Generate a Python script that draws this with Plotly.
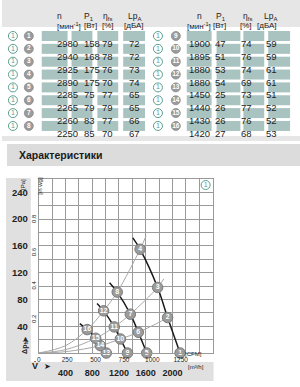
import plotly.graph_objects as go

W, H = 300, 387

# ---------------- table data ----------------
ids_left = [1, 2, 3, 4, 5, 6, 7, 8]
n_left = [2980, 2940, 2925, 2890, 2285, 2265, 2260, 2250]
p1_left = [158, 168, 175, 175, 75, 79, 83, 85]
eta_left = [79, 78, 76, 70, 77, 79, 77, 70]
lpa_left = [72, 72, 73, 74, 65, 65, 66, 67]

ids_right = [9, 10, 11, 12, 13, 14, 15, 16]
n_right = [1900, 1895, 1880, 1880, 1450, 1440, 1430, 1420]
p1_right = [47, 51, 53, 54, 25, 26, 26, 27]
eta_right = [74, 76, 74, 69, 73, 77, 76, 68]
lpa_right = [59, 59, 61, 61, 51, 52, 52, 53]

header_top = ["n", "P<sub>1</sub>", "η<sub>fs</sub>", "Lp<sub>A</sub>"]
header_unit = ["[мин<sup>-1</sup>]", "[Вт]", "[%]", "[дБА]"]

# ---------------- chart data ----------------
# operating points 1..16 : flow [m³/h], static pressure [Pa]
pt_ids = list(range(1, 17))
pt_flow = [2114, 1927, 1778, 1516, 1615, 1489, 1370, 1174,
           1327, 1221, 1129, 970, 1010, 921, 851, 724]
pt_dp = [0, 53, 98, 155, 0, 31, 58, 91,
         0, 21, 39, 63, 0, 11, 22, 35]

# fan curve start points (upper ends of the black curves)
curve_start_flow = [1407, 1059, 872, 614]
curve_start_dp = [172, 105, 74, 44]

# system curves: low-flow reading and upper end
sys_low_flow = [400, 400, 400]
sys_low_dp = [11, 5, 2]
sys_end_flow = [1605, 1872, 2016]
sys_end_dp = [175, 111, 60]

flow_ticks = [400, 800, 1200, 1600, 2000]
cfm_ticks = [0, 250, 500, 750, 1000, 1250]
pa_ticks = [40, 80, 120, 160, 200, 240]
inwg_ticks = [0.2, 0.4, 0.6, 0.8]

FLOW_MAX = 2600
PA_MAX = 260

FONT = "Liberation Sans Narrow, Arial Narrow, Liberation Sans, Arial"
teal = "#5aa090"
box_col = "#a9c3c1"


def px(x):
    return x / W


def py(y):
    return 1 - y / H


fig = go.Figure()

# ---- system curves (grey) ----
for j in range(3):
    ids = [16 - j, 12 - j, 8 - j, 4 - j]
    xs = [0, sys_low_flow[j]] + [pt_flow[i - 1] for i in ids] + [sys_end_flow[j]]
    ys = [0, sys_low_dp[j]] + [pt_dp[i - 1] for i in ids] + [sys_end_dp[j]]
    fig.add_trace(go.Scatter(x=xs, y=ys, mode="lines",
                             line=dict(color="#a8a8a8", width=1, shape="spline"),
                             hoverinfo="skip", showlegend=False, cliponaxis=False))

# ---- fan curves (black) ----
for k in range(4):
    ids = [4 * k + 4, 4 * k + 3, 4 * k + 2, 4 * k + 1]
    xs = [curve_start_flow[k]] + [pt_flow[i - 1] for i in ids]
    ys = [curve_start_dp[k]] + [pt_dp[i - 1] for i in ids]
    fig.add_trace(go.Scatter(x=xs, y=ys, mode="lines",
                             line=dict(color="#1a1a1a", width=1.5, shape="spline"),
                             hoverinfo="skip", showlegend=False, cliponaxis=False))

# ---- operating points ----
fig.add_trace(go.Scatter(x=pt_flow, y=pt_dp, mode="markers+text",
                         text=[f"<b>{i}</b>" for i in pt_ids],
                         textposition="middle center",
                         textfont=dict(color="white", size=7, family=FONT),
                         marker=dict(size=10.5, color="#9b9b9b",
                                     line=dict(color="#7a7a7a", width=1)),
                         hoverinfo="skip", showlegend=False, cliponaxis=False))

# empty traces so that the secondary label axes are drawn
for xa, ya in [("x2", "y"), ("x3", "y"), ("x", "y2"), ("x", "y3")]:
    fig.add_trace(go.Scatter(x=[], y=[], xaxis=xa, yaxis=ya, mode="markers",
                             hoverinfo="skip", showlegend=False))

# ---- table row badges, drawn on a page-layout axis (pixels) ----
row_y = [36 + 12.85 * i for i in range(8)]
badge_cols = [(11, 27, ids_left), (157, 175, ids_right)]
for c1, c2, ids in badge_cols:
    fig.add_trace(go.Scatter(x=[c1] * len(ids), y=row_y, xaxis="x4", yaxis="y4",
                             mode="markers+text", text=["1"] * len(ids),
                             textposition="middle center",
                             textfont=dict(color=teal, size=7, family=FONT),
                             marker=dict(size=9, color="white", line=dict(color=teal, width=1)),
                             hoverinfo="skip", showlegend=False, cliponaxis=False))
    fig.add_trace(go.Scatter(x=[c2] * len(ids), y=row_y, xaxis="x4", yaxis="y4",
                             mode="markers+text", text=[f"<b>{i}</b>" for i in ids],
                             textposition="middle center",
                             textfont=dict(color="white", size=6.5, family=FONT),
                             marker=dict(size=9, color="#9b9b9b",
                                         line=dict(color="#8a8a8a", width=0.8)),
                             hoverinfo="skip", showlegend=False, cliponaxis=False))
# curve-set badge in the chart corner
fig.add_trace(go.Scatter(x=[205], y=[185], xaxis="x4", yaxis="y4",
                         mode="markers+text", text=["1"], textposition="middle center",
                         textfont=dict(color=teal, size=7, family=FONT),
                         marker=dict(size=9, color="white", line=dict(color=teal, width=1)),
                         hoverinfo="skip", showlegend=False, cliponaxis=False))

XD = [px(37), px(212)]
YD = [py(353), py(179)]
grid_col = "#9a9a9a"

fig.update_layout(
    width=W, height=H, margin=dict(l=0, r=0, t=0, b=0),
    paper_bgcolor="white", plot_bgcolor="rgba(0,0,0,0)",
    font=dict(family=FONT, color="#222"),
    xaxis=dict(domain=XD, range=[0, FLOW_MAX], dtick=200, tick0=0,
               showgrid=True, gridcolor=grid_col, gridwidth=1,
               showticklabels=False, ticks="", zeroline=False,
               showline=True, linecolor=grid_col, mirror=True, fixedrange=True),
    yaxis=dict(domain=YD, range=[0, PA_MAX], dtick=20, tick0=0,
               showgrid=True, gridcolor=grid_col, gridwidth=1,
               showticklabels=False, ticks="", zeroline=False,
               showline=True, linecolor=grid_col, mirror=True, fixedrange=True),
    xaxis2=dict(domain=XD, overlaying="x", anchor="y", side="bottom",
                range=[0, FLOW_MAX], tickmode="array", tickvals=flow_ticks,
                ticktext=[str(v) for v in flow_ticks], showgrid=False, zeroline=False,
                ticks="", ticklabelstandoff=13,
                tickfont=dict(size=9, family=FONT, weight="bold", color="#222"),
                fixedrange=True),
    xaxis3=dict(domain=XD, overlaying="x", anchor="y", side="bottom",
                range=[0, FLOW_MAX / 1.699], tickmode="array", tickvals=cfm_ticks,
                ticktext=[str(v) for v in cfm_ticks], showgrid=False, zeroline=False,
                ticks="", ticklabelstandoff=1,
                tickfont=dict(size=6.5, family=FONT, color="#222"),
                fixedrange=True),
    yaxis2=dict(domain=YD, overlaying="y", anchor="x", side="left",
                range=[0, PA_MAX], tickmode="array", tickvals=pa_ticks,
                ticktext=[str(v) for v in pa_ticks], showgrid=False, zeroline=False,
                ticks="", ticklabelstandoff=10,
                tickfont=dict(size=9.5, family=FONT, weight="bold", color="#222"),
                fixedrange=True),
    yaxis3=dict(domain=YD, overlaying="y", anchor="x", side="left",
                range=[0, PA_MAX / 249.089], tickmode="array", tickvals=inwg_ticks,
                ticktext=[str(v) for v in inwg_ticks], showgrid=False, zeroline=False,
                ticks="", ticklabelstandoff=1, tickangle=-90,
                tickfont=dict(size=6, family=FONT, color="#222"),
                fixedrange=True),
    xaxis4=dict(domain=[0, 1], range=[0, W], visible=False, anchor="y4", fixedrange=True),
    yaxis4=dict(domain=[0, 1], range=[H, 0], visible=False, anchor="x4", fixedrange=True),
)

shapes = []
ann = []

# background bands
shapes.append(dict(type="rect", xref="paper", yref="paper", x0=0, x1=1,
                   y0=py(27), y1=py(0), fillcolor="#e6e6e6", line_width=0, layer="below"))
shapes.append(dict(type="rect", xref="paper", yref="paper", x0=0, x1=1,
                   y0=py(141), y1=py(136), fillcolor="#e6e6e6", line_width=0, layer="below"))
shapes.append(dict(type="rect", xref="paper", yref="paper", x0=px(5), x1=1,
                   y0=py(166), y1=py(144), fillcolor="#dcdcdc", line_width=0, layer="below"))
shapes.append(dict(type="rect", xref="paper", yref="paper", x0=px(4), x1=px(29),
                   y0=py(362), y1=py(178), fillcolor="#e0e0e0", line_width=0, layer="below"))
shapes.append(dict(type="rect", xref="paper", yref="paper", x0=px(4), x1=px(213),
                   y0=py(381), y1=py(362), fillcolor="#e0e0e0", line_width=0, layer="below"))
shapes.append(dict(type="rect", xref="paper", yref="paper", x0=XD[0], x1=XD[1],
                   y0=YD[0], y1=YD[1], fillcolor="white", line_width=0, layer="below"))

ann.append(dict(x=px(15), y=py(155), xref="paper", yref="paper", text="<b>Характеристики</b>",
                showarrow=False, xanchor="left", yanchor="middle",
                font=dict(size=10.5, family=FONT, color="#1a1a1a")))

# ---- table cells ----
tables = [
    dict(vals=[n_left, p1_left, eta_left, lpa_left],
         cols=[(40, 66), (70, 91), (96, 117), (122, 144)]),
    dict(vals=[n_right, p1_right, eta_right, lpa_right],
         cols=[(186, 211), (216, 240), (243, 264), (268, 290)]),
]
for t in tables:
    for ci, (x0, x1) in enumerate(t["cols"]):
        xc = (x0 + x1) / 2
        ann.append(dict(x=px(xc), y=py(9), xref="paper", yref="paper", text=header_top[ci],
                        showarrow=False, font=dict(size=8.5, family=FONT, color="#222")))
        ann.append(dict(x=px(xc), y=py(19), xref="paper", yref="paper", text=header_unit[ci],
                        showarrow=False, font=dict(size=8, family=FONT, color="#222")))
        for ri in range(len(row_y)):
            yc = row_y[ri]
            shapes.append(dict(type="rect", xref="paper", yref="paper",
                               x0=px(x0), x1=px(x1), y0=py(yc + 5), y1=py(yc - 5),
                               fillcolor=box_col, line_width=0, layer="below"))
            ann.append(dict(x=px(xc), y=py(yc), xref="paper", yref="paper",
                            text=str(t["vals"][ci][ri]), showarrow=False,
                            font=dict(size=9.5, family=FONT, color="#222")))

# ---- chart decorations ----
ann.append(dict(x=px(16), y=py(184), xref="paper", yref="paper", text="[Pa]",
                showarrow=False, textangle=-90, font=dict(size=6, family=FONT, color="#222")))
ann.append(dict(x=px(33), y=py(186), xref="paper", yref="paper", text="[in wg]",
                showarrow=False, textangle=-90, font=dict(size=6, family=FONT, color="#222")))
ann.append(dict(x=px(17), y=py(345), xref="paper", yref="paper", text="➤",
                showarrow=False, textangle=-90, font=dict(size=8, family=FONT, color="#222")))
ann.append(dict(x=px(17), y=py(356), xref="paper", yref="paper", text="<b>Δp<sub>fs</sub></b>",
                showarrow=False, textangle=-90, font=dict(size=7, family=FONT, color="#222")))
ann.append(dict(x=px(28), y=py(373), xref="paper", yref="paper", text="<b>V̇</b>",
                showarrow=False, font=dict(size=9, family=FONT, color="#222")))
ann.append(dict(x=px(40), y=py(373), xref="paper", yref="paper", text="➤",
                showarrow=False, font=dict(size=7.5, family=FONT, color="#222")))
ann.append(dict(x=px(205), y=py(372), xref="paper", yref="paper", text="[m³/h]",
                showarrow=False, font=dict(size=6, family=FONT, color="#222")))
ann.append(dict(x=px(203), y=py(359), xref="paper", yref="paper", text="[CFM]",
                showarrow=False, font=dict(size=6, family=FONT, color="#222")))

fig.update_layout(shapes=shapes, annotations=ann)
fig.write_html("out.html")
